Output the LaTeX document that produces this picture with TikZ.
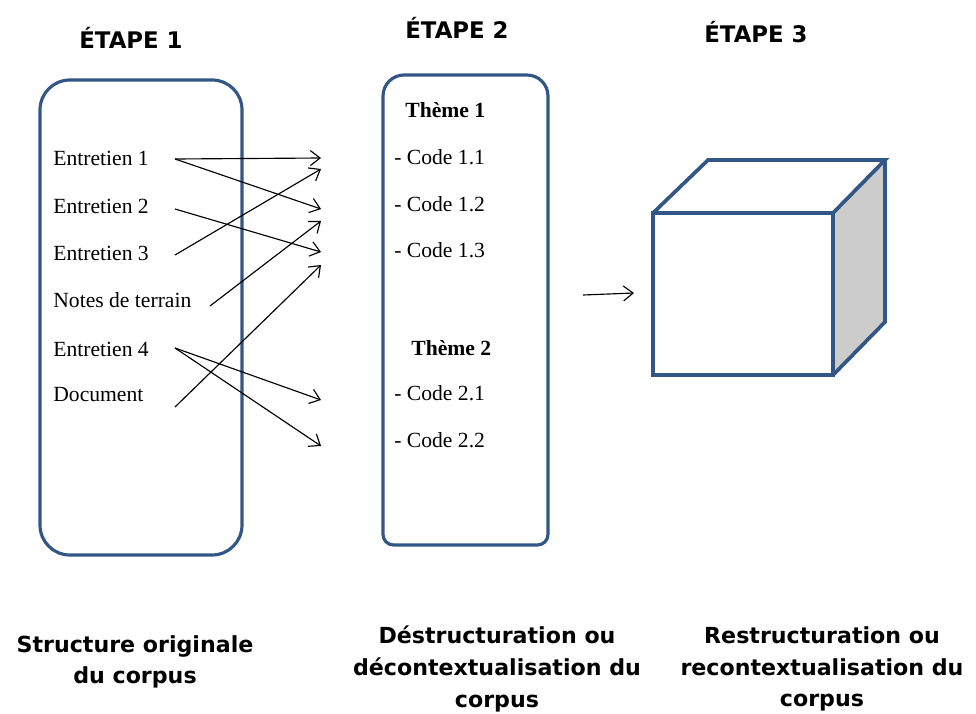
\documentclass[tikz,border=0pt]{standalone}
\usepackage{fontspec}
\setmainfont{Liberation Serif}
\newfontfamily\headfont{DejaVu Sans}
\usetikzlibrary{arrows.meta}
\definecolor{frame}{RGB}{50, 86, 134}
\definecolor{side}{RGB}{204, 204, 204}

\begin{document}
\begin{tikzpicture}[x=0.02cm, y=-0.02cm]
    \tikzset{
        box/.style={draw=frame, line width=1.8pt},
        item/.style={anchor=west, inner sep=0pt, font=\fontsize{12.3}{14}\selectfont},
        theme/.style={item, font=\fontsize{12.3}{14}\selectfont\bfseries},
        etape/.style={font=\headfont\fontsize{13}{16}\selectfont\bfseries},
        caption/.style={align=center, font=\headfont\fontsize{12.6}{18}\selectfont\bfseries},
        link/.style={-{Straight Barb[length=5.5pt, width=8.5pt]}, line width=0.65pt}
    }
    \useasboundingbox (0, 0) rectangle (976, 713);

    % stage titles
    \node[etape] (t1) at (131, 38) {ÉTAPE 1};
    \node[etape] (t2) at (457, 28) {ÉTAPE 2};
    \node[etape] (t3) at (756, 32) {ÉTAPE 3};

    % the two columns
    \draw[box, rounded corners=17pt] (40, 80) rectangle (242, 555);
    \draw[box] (383, 300) [rounded corners=12pt] -- (383, 75) -- (548, 75)
        [rounded corners=6pt] -- (548, 545) -- (383, 545) -- cycle;

    % original corpus
    \node[item] (e1) at (53, 158) {Entretien 1};
    \node[item] (e2) at (53, 206) {Entretien 2};
    \node[item] (e3) at (53, 253) {Entretien 3};
    \node[item] (nt) at (53, 300) {Notes de terrain};
    \node[item] (e4) at (53, 349) {Entretien 4};
    \node[item] (doc) at (53, 395) {Document};

    % codes
    \node[theme] (th1) at (405, 110) {Thème 1};
    \node[item] (c11) at (394, 157) {- Code 1.1};
    \node[item] (c12) at (394, 204) {- Code 1.2};
    \node[item] (c13) at (394, 250) {- Code 1.3};
    \node[theme] (th2) at (411, 348) {Thème 2};
    \node[item] (c21) at (394, 393) {- Code 2.1};
    \node[item] (c22) at (394, 440) {- Code 2.2};

    % arrow start and end points
    \coordinate (s1) at (175, 159);
    \coordinate (s2) at (175, 209);
    \coordinate (s3) at (175, 255);
    \coordinate (s4) at (210, 306);
    \coordinate (s5) at (175, 348);
    \coordinate (s6) at (175, 407);
    \coordinate (a1) at (321, 158);
    \coordinate (a2) at (321, 169);
    \coordinate (a3) at (321, 209);
    \coordinate (a4) at (321, 221);
    \coordinate (a5) at (321, 252);
    \coordinate (a6) at (321, 265);
    \coordinate (a7) at (321, 400);
    \coordinate (a8) at (321, 446);

    \draw[link] (s1) -- (a1);
    \draw[link] (s1) -- (a3);
    \draw[link] (s2) -- (a5);
    \draw[link] (s3) -- (a2);
    \draw[link] (s4) -- (a4);
    \draw[link] (s6) -- (a6);
    \draw[link] (s5) -- (a7);
    \draw[link] (s5) -- (a8);

    % cube
    \fill[side] (833, 213) -- (885, 160) -- (885, 322) -- (833, 375) -- cycle;
    \draw[box, line width=2.1pt] (653, 213) rectangle (833, 375);
    \draw[box, line width=2.1pt] (653, 213) -- (708, 160) -- (885, 160) -- (833, 213);
    \draw[box, line width=2.1pt] (885, 160) -- (885, 322) -- (833, 375);

    \coordinate (r0) at (583, 295);
    \coordinate (r1) at (634, 293);
    \draw[link] (r0) -- (r1);

    % captions
    \node[caption] (b1) at (135, 662) {Structure originale\\du corpus};
    \node[caption] (b2) at (497, 669) {Déstructuration ou\\décontextualisation du\\corpus};
    \node[caption] (b3) at (822, 669) {Restructuration ou\\recontextualisation du\\corpus};
\end{tikzpicture}
\end{document}
